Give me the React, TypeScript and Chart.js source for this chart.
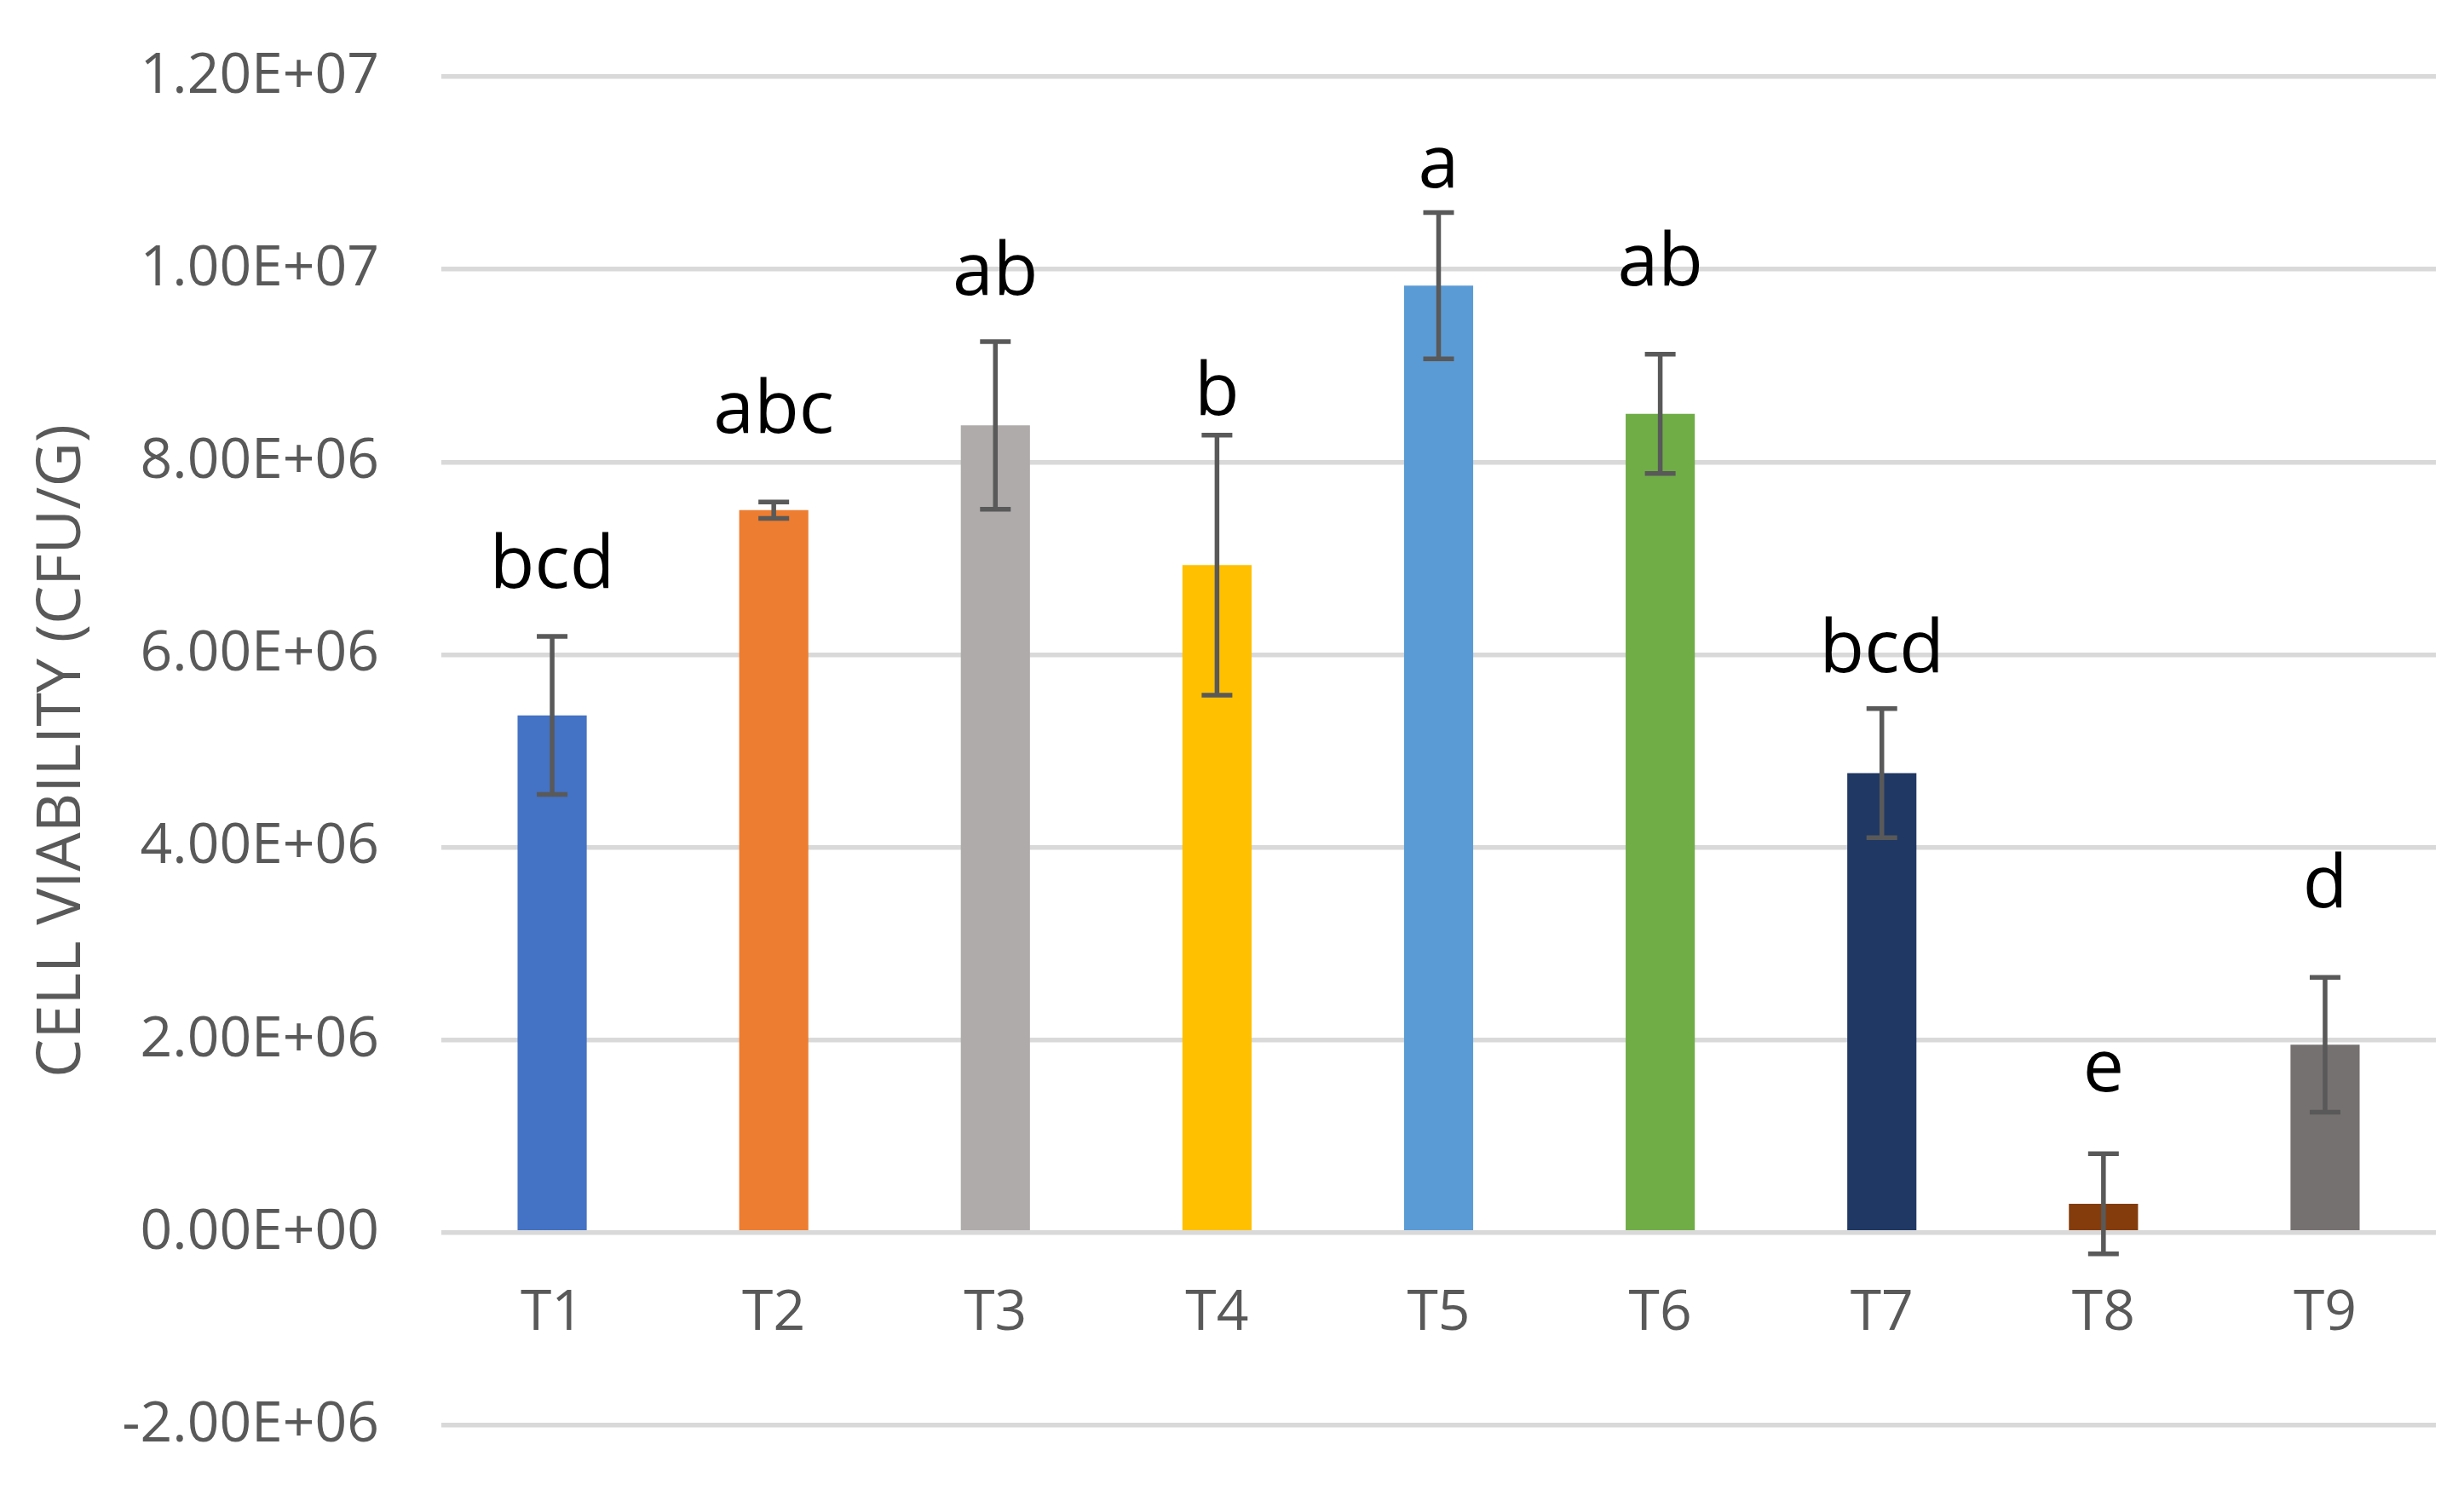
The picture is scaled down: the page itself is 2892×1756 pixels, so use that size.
import { useEffect, useRef } from "react";
import { Chart, registerables } from "chart.js";

Chart.register(...registerables);

// ---------- data ----------
const categories = ["T1", "T2", "T3", "T4", "T5", "T6", "T7", "T8", "T9"];
const meanValues = [5.37e6, 7.5e6, 8.38e6, 6.93e6, 9.83e6, 8.5e6, 4.77e6, 0.3e6, 1.95e6];
const errorValues = [0.82e6, 0.085e6, 0.87e6, 1.35e6, 0.76e6, 0.62e6, 0.67e6, 0.52e6, 0.7e6];
const letterLabels = ["bcd", "abc", "ab", "b", "a", "ab", "bcd", "e", "d"];
const letterValues = [6.69e6, 8.3e6, 9.74e6, 8.49e6, 10.85e6, 9.83e6, 5.82e6, 1.47e6, 3.38e6];
const barColors = [
  "#4472C4",
  "#ED7D31",
  "#AFABAB",
  "#FFC000",
  "#5B9BD5",
  "#70AD47",
  "#203864",
  "#843C0C",
  "#767171",
];
const yTickValues = [-2e6, 0, 2e6, 4e6, 6e6, 8e6, 1e7, 1.2e7];
const yTickLabels = [
  "-2.00E+06",
  "0.00E+00",
  "2.00E+06",
  "4.00E+06",
  "6.00E+06",
  "8.00E+06",
  "1.00E+07",
  "1.20E+07",
];
const yAxisTitle = "CELL VIABILITY (CFU/G)";

const FONT = "'Open Sans', 'DejaVu Sans', sans-serif";
const AXIS_GREY = "#595959";

const overlayPlugin = {
  id: "errorBarsAndLetters",
  afterDatasetsDraw(chart: any) {
    const ctx = chart.ctx as CanvasRenderingContext2D;
    const yScale = chart.scales.y;
    const meta = chart.getDatasetMeta(0);
    ctx.save();
    ctx.strokeStyle = AXIS_GREY;
    ctx.lineWidth = 5.5;
    ctx.lineCap = "butt";
    const cap = 18;
    meta.data.forEach((bar: any, i: number) => {
      const x = bar.x;
      const top = yScale.getPixelForValue(meanValues[i] + errorValues[i]);
      const bot = yScale.getPixelForValue(meanValues[i] - errorValues[i]);
      ctx.beginPath();
      ctx.moveTo(x, top);
      ctx.lineTo(x, bot);
      ctx.moveTo(x - cap, top);
      ctx.lineTo(x + cap, top);
      ctx.moveTo(x - cap, bot);
      ctx.lineTo(x + cap, bot);
      ctx.stroke();
    });
    ctx.fillStyle = "#000000";
    ctx.font = `86px ${FONT}`;
    ctx.textAlign = "center";
    ctx.textBaseline = "alphabetic";
    meta.data.forEach((bar: any, i: number) => {
      ctx.fillText(letterLabels[i], bar.x, yScale.getPixelForValue(letterValues[i]));
    });
    ctx.restore();
  },
};

export default function App() {
  const canvasRef = useRef<HTMLCanvasElement | null>(null);

  useEffect(() => {
    const canvas = canvasRef.current;
    if (!canvas) return;
    const chart = new Chart(canvas, {
      type: "bar",
      data: {
        labels: categories,
        datasets: [
          {
            data: meanValues,
            backgroundColor: barColors,
            borderWidth: 0,
            barPercentage: 0.312,
            categoryPercentage: 1,
          },
        ],
      },
      options: {
        responsive: false,
        animation: false,
        devicePixelRatio: 1,
        layout: { padding: { left: 0, right: 33, top: 90, bottom: 83 } },
        plugins: {
          legend: { display: false },
          tooltip: { enabled: false },
        },
        scales: {
          x: {
            type: "category",
            position: { y: 0 } as any,
            grid: { display: false, drawTicks: false },
            border: { display: false },
            ticks: {
              color: AXIS_GREY,
              font: { family: FONT, size: 66 },
              padding: 56,
              maxRotation: 0,
            },
          },
          y: {
            type: "linear",
            min: -2e6,
            max: 1.2e7,
            afterBuildTicks: (scale: any) => {
              scale.ticks = yTickValues.map((v) => ({ value: v }));
            },
            afterFit: (scale: any) => {
              scale.width = 518;
              scale.paddingTop = 0;
              scale.paddingBottom = 0;
            },
            grid: { color: "#D9D9D9", lineWidth: 5.5, drawTicks: false },
            border: { display: false },
            ticks: {
              color: AXIS_GREY,
              font: { family: FONT, size: 66 },
              padding: 73,
              callback: (value: any) => {
                const idx = yTickValues.indexOf(Number(value));
                return idx >= 0 ? yTickLabels[idx] : "";
              },
            },
            title: {
              display: true,
              text: yAxisTitle,
              color: AXIS_GREY,
              font: { family: FONT, size: 72 },
              padding: { top: 30, bottom: 0 },
            },
          },
        },
      },
      plugins: [overlayPlugin],
    });
    return () => chart.destroy();
  }, []);

  return (
    <div style={{ position: "fixed", left: 0, top: 0, width: 2892, height: 1756, background: "#ffffff" }}>
      <canvas ref={canvasRef} width={2892} height={1756} style={{ display: "block", width: 2892, height: 1756 }} />
    </div>
  );
}
